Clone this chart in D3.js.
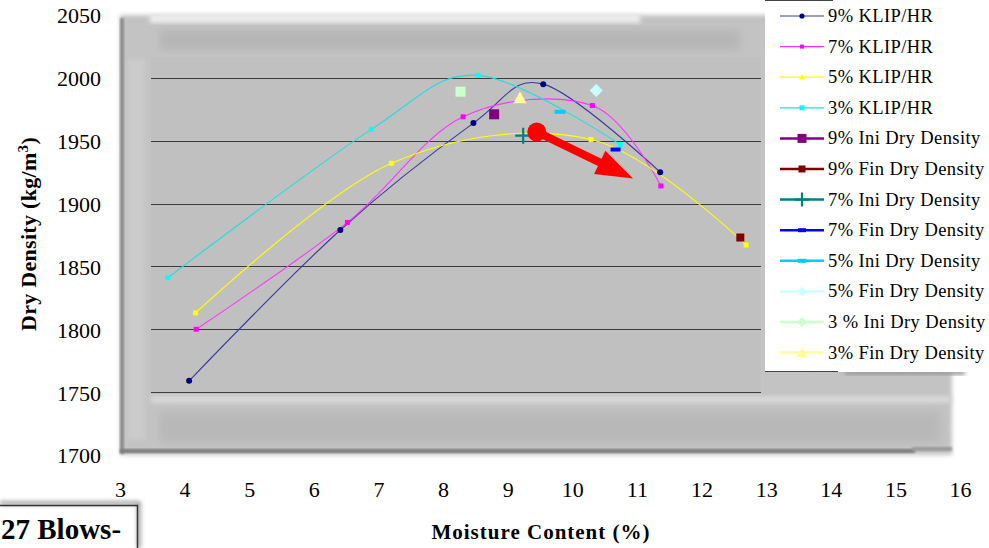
<!DOCTYPE html>
<html>
<head>
<meta charset="utf-8">
<script src="https://cdn.jsdelivr.net/npm/d3@7"></script>
<style>
  html, body { margin: 0; padding: 0; background: #fff; overflow: hidden; }
  svg { display: block; font-family: "Liberation Serif", "Times New Roman", serif; }
</style>
</head>
<body>
<svg id="chart" width="989" height="548"></svg>
<script>
// ---- data -------------------------------------------------------------
const moistureTicks = d3.range(3, 17);              // x tick labels
const densityTicks = d3.range(1700, 2051, 50);      // y tick labels

// compaction curves: [moisture %, dry density kg/m3]
const klip9 = [[4.07, 1759], [6.41, 1879], [8.47, 1964], [9.55, 1995], [11.36, 1925]];
const klip7 = [[4.18, 1800], [6.52, 1885], [8.31, 1969], [10.31, 1978], [11.37, 1914]];
const klip5 = [[4.17, 1813], [7.20, 1932], [10.29, 1951], [12.69, 1867]];
const klip3 = [[3.74, 1841], [6.89, 1959], [8.54, 2002], [10.74, 1947]];

// single measurements (initial / final dry density)
const ini9 = [[8.79, 1971]];
const fin9 = [[12.60, 1873]];
const ini7 = [[9.24, 1954]];
const fin7 = [[10.67, 1943]];
const ini5 = [[9.81, 1973]];
const fin5 = [[10.37, 1990]];
const ini3 = [[8.27, 1989]];
const fin3 = [[9.19, 1984]];

const seriesNames = [
  "9% KLIP/HR", "7% KLIP/HR", "5% KLIP/HR", "3% KLIP/HR",
  "9% Ini Dry Density", "9% Fin Dry Density",
  "7% Ini Dry Density", "7% Fin Dry Density",
  "5% Ini Dry Density", "5% Fin Dry Density",
  "3 % Ini Dry Density", "3% Fin Dry Density"
];

// annotation arrow (from -> to) in data units
const arrowFrom = [9.45, 1957];
const arrowTo = [10.94, 1920];

// ---- styling per series --------------------------------------------
const styles = [
  { data: klip9, color: "#000080", line: "#3a3a9a", curve: true, mark: "circle", ms: 3, lm: "circle", lms: 2.6 },
  { data: klip7, color: "#ff00ff", line: "#ff33ff", curve: true, mark: "square", ms: 5, lm: "square", lms: 4 },
  { data: klip5, color: "#ffff00", line: "#ffff00", curve: true, mark: "square", ms: 5, lm: "triangle", lms: 6 },
  { data: klip3, color: "#00ffff", line: "#22dddd", curve: true, mark: "square", ms: 5, lm: "square", lms: 5 },
  { data: ini9, color: "#800080", mark: "square", ms: 10, lm: "square", lms: 9 },
  { data: fin9, color: "#800000", mark: "square", ms: 8, lm: "square", lms: 7 },
  { data: ini7, color: "#008080", mark: "plus", ms: 16, lm: "plus", lms: 14 },
  { data: fin7, color: "#0000ff", mark: "dash", ms: 10, lm: "dash", lms: 8 },
  { data: ini5, color: "#00ccff", mark: "dash", ms: 11, lm: "dash", lms: 9 },
  { data: fin5, color: "#ccffff", mark: "diamond", ms: 13, lm: "diamond", lms: 10 },
  { data: ini3, color: "#ccffcc", mark: "square", ms: 10, lm: "diamond", lms: 10 },
  { data: fin3, color: "#ffff99", mark: "triangle", ms: 13, lm: "triangle", lms: 11 }
];

// ---- scales ---------------------------------------------------------
const svg = d3.select("#chart");
const x = d3.scaleLinear().domain([3, 16]).range([120, 960]);
const y = d3.scaleLinear().domain([1700, 2050]).range([455, 15]);

// plot panel bounds in data units
const panelX = [3.48, 12.92];
const panelY = [1750, 2016];

// ---- filters --------------------------------------------------------
const defs = svg.append("defs");
function blur(id, sd) {
  defs.append("filter").attr("id", id)
    .attr("x", "-20%").attr("y", "-20%").attr("width", "140%").attr("height", "140%")
    .append("feGaussianBlur").attr("stdDeviation", sd);
}
blur("b1", 1);
blur("b2", 2);
blur("b4", 4);

// ---- blurred outer frame ---------------------------------------------
const frame = svg.append("g");
frame.append("rect").attr("x", x(3)).attr("y", y(2050)).attr("width", 832).attr("height", y(1700) - y(2050))
  .attr("fill", "#c3c3c3").attr("filter", "url(#b2)");
frame.append("rect").attr("x", 150).attr("y", 14).attr("width", 490).attr("height", 9)
  .attr("fill", "#ececec").attr("filter", "url(#b2)");
frame.append("rect").attr("x", 160).attr("y", 30).attr("width", 580).attr("height", 20)
  .attr("fill", "#b6b6b6").attr("filter", "url(#b4)");
frame.append("rect").attr("x", 151).attr("y", 396).attr("width", 800).attr("height", 7)
  .attr("fill", "#d8d8d8").attr("filter", "url(#b2)");
frame.append("rect").attr("x", 160).attr("y", 412).attr("width", 780).attr("height", 30)
  .attr("fill", "#b8b8b8").attr("filter", "url(#b4)");
frame.append("rect").attr("x", 127).attr("y", 60).attr("width", 18).attr("height", 380)
  .attr("fill", "#cbcbcb").attr("filter", "url(#b2)");
frame.append("rect").attr("x", 120).attr("y", 18).attr("width", 4).attr("height", 436)
  .attr("fill", "#8c8c8c").attr("filter", "url(#b1)");
frame.append("rect").attr("x", 120).attr("y", 449).attr("width", 795).attr("height", 4)
  .attr("fill", "#7c7c7c").attr("filter", "url(#b1)");
frame.append("rect").attr("x", 912).attr("y", 447).attr("width", 40).attr("height", 4)
  .attr("fill", "#9a9a9a").attr("filter", "url(#b1)");

// ---- plot panel ------------------------------------------------------
svg.append("rect")
  .attr("x", x(panelX[0])).attr("y", y(panelY[1]))
  .attr("width", x(panelX[1]) - x(panelX[0])).attr("height", y(panelY[0]) - y(panelY[1]))
  .attr("fill", "#c0c0c0");

svg.append("g").selectAll("line")
  .data(densityTicks.filter(d => d >= panelY[0] && d <= panelY[1]))
  .join("line")
  .attr("x1", x(panelX[0])).attr("x2", x(panelX[1]))
  .attr("y1", d => Math.round(y(d)) + 0.5).attr("y2", d => Math.round(y(d)) + 0.5)
  .attr("stroke", "#3c3c3c").attr("stroke-width", 1.2);

// ---- axes --------------------------------------------------------------
const yAxis = svg.append("g").attr("transform", `translate(${x(3)},0)`)
  .call(d3.axisLeft(y).tickValues(densityTicks).tickSize(0).tickPadding(19).tickFormat(d3.format("d")));
const xAxis = svg.append("g").attr("transform", `translate(0,${y(1700)})`)
  .call(d3.axisBottom(x).tickValues(moistureTicks).tickSize(0).tickPadding(26).tickFormat(d3.format("d")));
[yAxis, xAxis].forEach(g => {
  g.select(".domain").remove();
  g.selectAll("text").attr("font-family", "Liberation Serif, serif").attr("font-size", 22).attr("fill", "#000");
});
yAxis.selectAll("text").attr("dy", "0.36em");

// axis titles
svg.append("text")
  .attr("x", 541).attr("y", 539).attr("text-anchor", "middle")
  .attr("font-size", 21).attr("font-weight", "bold").attr("letter-spacing", 1)
  .text("Moisture Content (%)");

const yTitle = svg.append("text")
  .attr("transform", "translate(36,234) rotate(-90)")
  .attr("text-anchor", "middle").attr("font-size", 22).attr("font-weight", "bold")
  .attr("letter-spacing", 0.3);
yTitle.append("tspan").text("Dry Density (kg/m");
yTitle.append("tspan").attr("baseline-shift", "super").attr("font-size", 15).text("3");
yTitle.append("tspan").text(")");

// ---- markers -------------------------------------------------------------
function drawMark(sel, kind, size, color) {
  const h = size / 2;
  if (kind === "circle") {
    sel.append("circle").attr("r", size).attr("fill", color);
  } else if (kind === "square") {
    sel.append("rect").attr("x", -h).attr("y", -h).attr("width", size).attr("height", size).attr("fill", color);
  } else if (kind === "triangle") {
    sel.append("path").attr("d", `M0,${-h}L${h},${h * 0.8}L${-h},${h * 0.8}Z`).attr("fill", color);
  } else if (kind === "diamond") {
    sel.append("path").attr("d", `M0,${-h}L${h},0L0,${h}L${-h},0Z`).attr("fill", color);
  } else if (kind === "plus") {
    sel.append("path").attr("d", `M${-h},0H${h}M0,${-h}V${h}`).attr("stroke", color).attr("stroke-width", 2.2);
  } else if (kind === "dash") {
    sel.append("rect").attr("x", -h).attr("y", -2).attr("width", size).attr("height", 4).attr("fill", color);
  }
}

const line = d3.line().x(d => x(d[0])).y(d => y(d[1])).curve(d3.curveCardinal.tension(0));
const plot = svg.append("g");

styles.filter(s => s.curve).forEach(s => {
  plot.append("path").datum(s.data).attr("d", line)
    .attr("fill", "none").attr("stroke", s.line).attr("stroke-width", 1.1);
});
styles.forEach(s => {
  s.data.forEach(p => {
    const g = plot.append("g").attr("transform", `translate(${x(p[0])},${y(p[1])})`);
    drawMark(g, s.mark, s.ms, s.color);
  });
});

// ---- annotation arrow ---------------------------------------------------
(function () {
  const x0 = x(arrowFrom[0]), y0 = y(arrowFrom[1]);
  const x1 = x(arrowTo[0]), y1 = y(arrowTo[1]);
  const dx = x1 - x0, dy = y1 - y0, len = Math.hypot(dx, dy);
  const ux = dx / len, uy = dy / len;
  const headLen = 37, headHalf = 13;
  const bx = x1 - ux * headLen, by = y1 - uy * headLen;
  const g = svg.append("g");
  g.append("line").attr("x1", x0).attr("y1", y0).attr("x2", bx + ux * 4).attr("y2", by + uy * 4)
    .attr("stroke", "#ff0000").attr("stroke-width", 8);
  g.append("path")
    .attr("d", `M${x1},${y1}L${bx - uy * headHalf},${by + ux * headHalf}L${bx + uy * headHalf},${by - ux * headHalf}Z`)
    .attr("fill", "#ff0000");
  g.append("circle").attr("cx", x0).attr("cy", y0).attr("r", 9.5).attr("fill", "#ff0000");
})();

// ---- legend -------------------------------------------------------------
const legend = svg.append("g");
legend.append("rect").attr("x", 845).attr("y", 370).attr("width", 120).attr("height", 5)
  .attr("fill", "#9a9a9a").attr("filter", "url(#b2)");
legend.append("rect").attr("x", 765).attr("y", 0).attr("width", 224).attr("height", 372).attr("fill", "#fff");
legend.append("line").attr("x1", 765).attr("x2", 833).attr("y1", 0.5).attr("y2", 0.5).attr("stroke", "#444");
legend.append("line").attr("x1", 765).attr("x2", 838).attr("y1", 371.5).attr("y2", 371.5).attr("stroke", "#444");

seriesNames.forEach((name, i) => {
  const s = styles[i];
  const ry = 16 + i * 30.6;
  const row = legend.append("g").attr("transform", `translate(0,${ry})`);
  row.append("line").attr("x1", 780).attr("x2", 824).attr("y1", 0).attr("y2", 0)
    .attr("stroke", s.curve ? s.line : s.color).attr("stroke-width", s.curve ? 1.2 : 2.5);
  const m = row.append("g").attr("transform", "translate(802,0)");
  drawMark(m, s.lm, s.lms, s.color);
  row.append("text").attr("x", 828).attr("y", 6).attr("font-size", 18.5)
    .attr("letter-spacing", 0.4).attr("fill", "#000").text(name);
});

// ---- sample label box --------------------------------------------------
const box = svg.append("g");
box.append("path").attr("d", "M0,503H139V548").attr("fill", "none")
  .attr("stroke", "#888").attr("stroke-width", 3).attr("filter", "url(#b2)");
box.append("path").attr("d", "M0,505.5H137.5V548").attr("fill", "none")
  .attr("stroke", "#333").attr("stroke-width", 1.5);
box.append("text").attr("x", 1).attr("y", 539).attr("font-size", 29).attr("font-weight", "bold")
  .text("27 Blows-");
</script>
</body>
</html>
